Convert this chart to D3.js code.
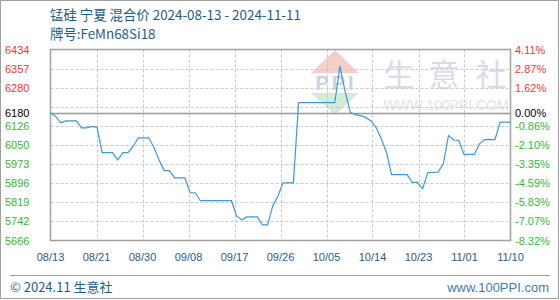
<!DOCTYPE html>
<html><head><meta charset="utf-8">
<script src="https://cdn.jsdelivr.net/npm/d3@7"></script>
<style>html,body{margin:0;padding:0;background:#fff}svg{display:block}</style>
</head><body><svg id="c" width="560" height="300"></svg>
<script>
const titleLine1 = "锰硅 宁夏 混合价 2024-08-13 - 2024-11-11";
const titleLine2 = "牌号:FeMn68Si18";
const startDate = "2024-08-13";
const basePrice = 6180;
const prices = [
 6180,6165,6139,6147,6147,6147,6119,6119,6125,6121,
 6019,6019,6019,5990,6019,6019,6045,6079,6079,6079,
 6041,5990,5947,5947,5918,5918,5918,5858,5858,5826,
 5826,5826,5826,5826,5826,5826,5765,5749,5761,5761,
 5761,5729,5729,5805,5845,5898,5898,5898,6220,6220,
 6220,6220,6220,6220,6220,6220,6367,6265,6182,6172,
 6168,6160,6147,6120,6075,6021,5931,5931,5931,5931,
 5900,5900,5874,5939,5940,5941,5974,6088,6070,6068,
 6012,6012,6012,6055,6072,6072,6072,6142,6142,6142
];
const xTickLabels = ["08/13","08/21","08/30","09/08","09/17","09/26","10/05","10/14","10/23","11/01","11/10"];
const yMin = 5666, yMax = 6434;
const leftTickLabels = ["5666","5742","5819","5896","5973","6050","6126","","6280","6357","6434"];
const rightTickLabels = ["-8.32%","-7.07%","-5.83%","-4.59%","-3.35%","-2.10%","-0.86%","","1.62%","2.87%","4.11%"];

const parse = d3.timeParse("%Y-%m-%d");
const t0 = parse(startDate);
const data = prices.map((v,i)=>({date:d3.timeDay.offset(t0,i), i, v}));

const svg = d3.select("#c");
const L=50.5, R=510.5, T=49.5, B=240.5;
const x = d3.scaleLinear().domain([0, prices.length-1]).range([L,R]);
const y = d3.scaleLinear().domain([yMin,yMax]).range([B,T]);
const blue = "#1c5d8d";
const font = "'Liberation Sans', Arial, sans-serif";
const cjk = "'Noto Sans CJK SC', 'Noto Sans', sans-serif";

// outer border
svg.append("rect").attr("x",0.5).attr("y",0.5).attr("width",558).attr("height",298)
  .attr("fill","none").attr("stroke","#a0a0a0");

// titles
svg.append("text").attr("x",50).attr("y",20).attr("font-family",cjk).attr("font-size",13.4)
  .attr("fill",blue).text(titleLine1);
svg.append("text").attr("x",50).attr("y",39).attr("font-family",cjk).attr("font-size",13.4)
  .attr("fill",blue).text(titleLine2);

// watermark
const wm = svg.append("g");
wm.append("path").attr("d","M311,73 L335,50 L359,73 Z").attr("fill","#f6cfc9");
wm.append("text").attr("x",336).attr("y",90).attr("text-anchor","middle").attr("font-family",font)
  .attr("font-weight","bold").attr("font-size",20).attr("fill","#c9d3e4").attr("letter-spacing",3).text("PPI");
wm.append("path").attr("d","M311,93 L359,93 L335,115 Z").attr("fill","#d3ecd3");
[["生",399],["意",444],["社",491]].forEach(([ch,cx])=>{
  wm.append("text").attr("x",cx).attr("y",86).attr("text-anchor","middle").attr("font-family",cjk)
    .attr("font-size",31).attr("fill","#d6dde9").text(ch);
});
wm.append("text").attr("x",446).attr("y",110).attr("text-anchor","middle").attr("font-family",font)
  .attr("font-size",14).attr("fill","#e2e5ea").text("WWW.100PPI.COM");

// grid
const nY = leftTickLabels.length-1;
const yTicks = d3.range(nY+1).map(k=>yMin+(yMax-yMin)*k/nY);
const nX = xTickLabels.length-1;
const xTicks = d3.range(nX+1).map(k=>(prices.length-1)*k/nX);
const grid = svg.append("g").attr("stroke","#c8c8c8").attr("stroke-dasharray","3,2");
grid.selectAll("line.h").data(yTicks.slice(1,-1)).join("line")
  .attr("x1",L).attr("x2",R).attr("y1",d=>Math.round(y(d))+0.5).attr("y2",d=>Math.round(y(d))+0.5);
grid.selectAll("line.v").data(xTicks.slice(1,-1)).join("line")
  .attr("y1",T).attr("y2",B).attr("x1",d=>Math.round(x(d))+0.5).attr("x2",d=>Math.round(x(d))+0.5);

// base line
svg.append("line").attr("x1",L).attr("x2",R).attr("y1",Math.round(y(basePrice))+0.5).attr("y2",Math.round(y(basePrice))+0.5)
  .attr("stroke","#999").attr("stroke-width",1.5);

// frame
svg.append("rect").attr("x",L).attr("y",T).attr("width",R-L).attr("height",B-T)
  .attr("fill","none").attr("stroke","#a0a0a0").attr("stroke-width",1.5);

// line
svg.append("path").datum(data).attr("fill","none").attr("stroke","#3a9ad9").attr("stroke-width",1.2)
  .attr("d",d3.line().x(d=>x(d.i)).y(d=>y(d.v)));

// left/right labels
const colorFor = v => v>basePrice+0.5 ? "#ff3333" : (v<basePrice-0.5 ? "#33b833" : "#000");
const lab = svg.append("g").attr("font-family",font).attr("font-size",11);
yTicks.forEach((v,k)=>{
  if(!leftTickLabels[k]) return;
  lab.append("text").attr("x",5).attr("y",y(v)+4).attr("fill",colorFor(v)).text(leftTickLabels[k]);
  lab.append("text").attr("x",515).attr("y",y(v)+4).attr("fill",colorFor(v)).text(rightTickLabels[k]);
});
lab.append("text").attr("x",5).attr("y",y(basePrice)+4).attr("fill","#000").text(String(basePrice));
lab.append("text").attr("x",515).attr("y",y(basePrice)+4).attr("fill","#000")
  .text(((basePrice-prices[0])/prices[0]*100).toFixed(2)+"%");

// x labels
svg.append("g").attr("font-family",font).attr("font-size",11).attr("fill",blue)
  .selectAll("text").data(xTicks).join("text")
  .attr("x",d=>x(d)).attr("y",261).attr("text-anchor","middle").text((d,k)=>xTickLabels[k]);

// footer
svg.append("line").attr("x1",10).attr("x2",550).attr("y1",275.5).attr("y2",275.5).attr("stroke","#a0a0a0").attr("stroke-width",1);
svg.append("text").attr("x",10).attr("y",292).attr("font-family",cjk).attr("font-size",13).attr("fill",blue).text("© 2024.11 生意社");
svg.append("text").attr("x",549).attr("y",292).attr("text-anchor","end").attr("font-family",font).attr("font-size",13).attr("fill","#3f7bab").text("www.100PPI.com");
</script></body></html>
